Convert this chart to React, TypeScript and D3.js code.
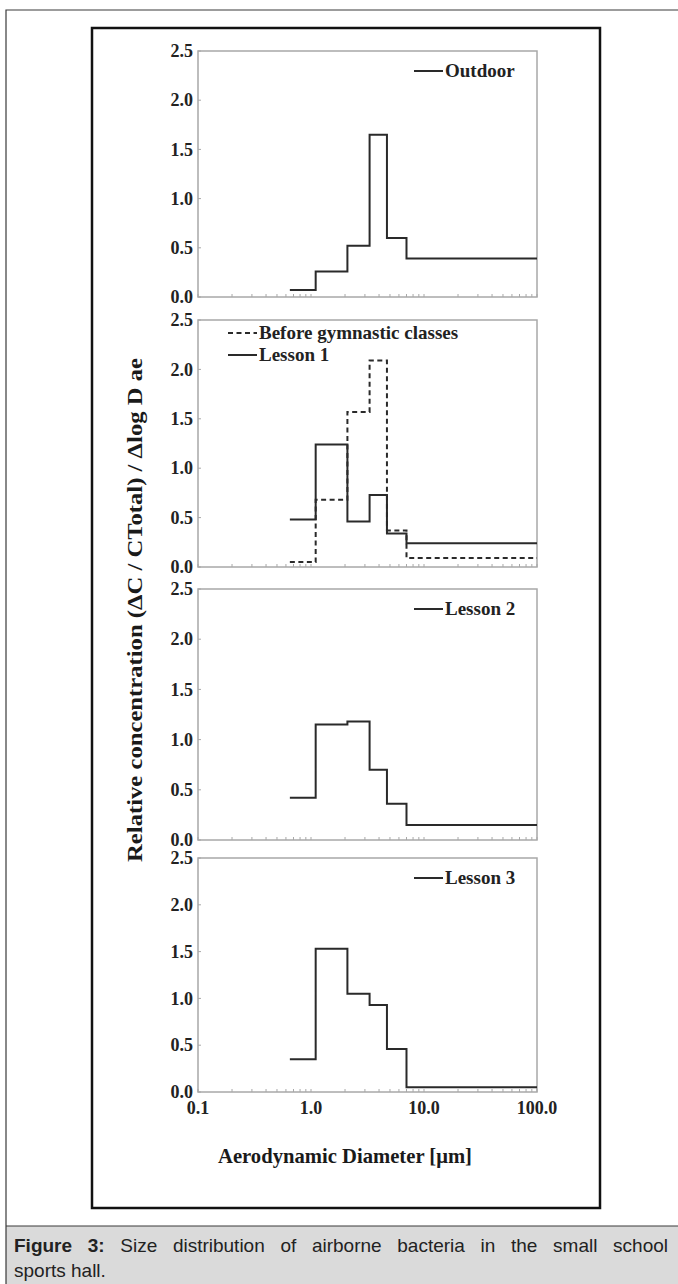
import * as d3 from "d3";
import { useEffect, useRef } from "react";

// bin edges (Andersen stages) and relative concentrations per bin
const binEdges = [0.65, 1.1, 2.1, 3.3, 4.7, 7.0, 100];
const outdoor = [0.07, 0.26, 0.52, 1.65, 0.6, 0.39];
const beforeClasses = [0.05, 0.68, 1.57, 2.09, 0.37, 0.09];
const lesson1 = [0.48, 1.24, 0.46, 0.73, 0.34, 0.24];
const lesson2 = [0.42, 1.15, 1.18, 0.7, 0.36, 0.15];
const lesson3 = [0.35, 1.53, 1.05, 0.93, 0.46, 0.05];

const yTicks = [0, 0.5, 1, 1.5, 2, 2.5];
const yTickLabels = ["0.0", "0.5", "1.0", "1.5", "2.0", "2.5"];
const xTicks = [0.1, 1, 10, 100];
const xTickLabels = ["0.1", "1.0", "10.0", "100.0"];

const captionBold = "Figure 3:";
const captionLine1 = "Size distribution of airborne bacteria in the small school";
const captionLine2 = "sports hall.";

const panels = [
    { top: 51, bottom: 297, series: [{ name: "Outdoor", values: outdoor, dashed: false }] },
    {
        top: 320,
        bottom: 567,
        series: [
            { name: "Before gymnastic classes", values: beforeClasses, dashed: true },
            { name: "Lesson 1", values: lesson1, dashed: false },
        ],
    },
    { top: 589, bottom: 840, series: [{ name: "Lesson 2", values: lesson2, dashed: false }] },
    { top: 858, bottom: 1092, series: [{ name: "Lesson 3", values: lesson3, dashed: false }] },
];

const W = 678,
    H = 1284;
const serif = "'Liberation Serif', 'Times New Roman', serif";
const sans = "'Liberation Sans', Arial, sans-serif";

export default function App() {
    const ref = useRef<SVGSVGElement>(null);

    useEffect(() => {
        const svg = d3.select(ref.current);
        svg.selectAll("*").remove();

        svg.append("rect").attr("width", W).attr("height", H).attr("fill", "#fff");

        // outer page frame and caption band
        svg.append("rect")
            .attr("x", 6)
            .attr("y", 1226)
            .attr("width", W - 6)
            .attr("height", H - 1226)
            .attr("fill", "#dadada");
        svg.append("path")
            .attr("d", `M6,${H} V10 H${W} M6,1226 H${W}`)
            .attr("fill", "none")
            .attr("stroke", "#3a3a3a")
            .attr("stroke-width", 1.2);

        // figure box
        svg.append("rect")
            .attr("x", 92)
            .attr("y", 28)
            .attr("width", 508)
            .attr("height", 1180)
            .attr("fill", "none")
            .attr("stroke", "#111")
            .attr("stroke-width", 2.5);

        const x = d3.scaleLog().domain([0.1, 100]).range([198, 537]);
        const minor: number[] = [];
        [0.1, 1, 10].forEach((dec) => d3.range(1, 10).forEach((k) => minor.push(k * dec)));
        minor.push(100);

        panels.forEach((p, pi) => {
            const y = d3.scaleLinear().domain([0, 2.5]).range([p.bottom, p.top]);
            const g = svg.append("g");

            // frame
            g.append("rect")
                .attr("x", x.range()[0])
                .attr("y", p.top)
                .attr("width", x.range()[1] - x.range()[0])
                .attr("height", p.bottom - p.top)
                .attr("fill", "none")
                .attr("stroke", "#a8a8a8")
                .attr("stroke-width", 1.5);

            // ticks
            g.selectAll(".xt")
                .data(minor)
                .join("line")
                .attr("x1", (d) => x(d))
                .attr("x2", (d) => x(d))
                .attr("y1", p.bottom)
                .attr("y2", p.bottom - 3)
                .attr("stroke", "#a8a8a8")
                .attr("stroke-width", 1);
            g.selectAll(".yt")
                .data(yTicks)
                .join("line")
                .attr("x1", x.range()[0])
                .attr("x2", x.range()[0] + 3)
                .attr("y1", (d) => y(d))
                .attr("y2", (d) => y(d))
                .attr("stroke", "#a8a8a8")
                .attr("stroke-width", 1);

            g.selectAll(".yl")
                .data(yTicks)
                .join("text")
                .attr("x", 193)
                .attr("y", (d) => y(d))
                .attr("dy", "0.34em")
                .attr("text-anchor", "end")
                .attr("font-family", serif)
                .attr("font-weight", "bold")
                .attr("font-size", 18)
                .attr("fill", "#222")
                .text((d, i) => yTickLabels[i]);

            // series
            const line = d3
                .line<number>()
                .x((d, i) => x(binEdges[i]))
                .y((d) => y(d))
                .curve(d3.curveStepAfter);

            p.series.forEach((s) => {
                const vals = [...s.values, s.values[s.values.length - 1]];
                g.append("path")
                    .datum(vals)
                    .attr("d", line)
                    .attr("fill", "none")
                    .attr("stroke", "#2a2a2a")
                    .attr("stroke-width", 2)
                    .attr("stroke-dasharray", s.dashed ? "5,3.5" : null);
            });

            // legend
            const multi = p.series.length > 1;
            p.series.forEach((s, si) => {
                const lx = multi ? 228 : 414;
                const ly = multi ? p.top + 13 + si * 22 : p.top + 20;
                g.append("line")
                    .attr("x1", lx)
                    .attr("x2", lx + 29)
                    .attr("y1", ly)
                    .attr("y2", ly)
                    .attr("stroke", "#2a2a2a")
                    .attr("stroke-width", 2)
                    .attr("stroke-dasharray", s.dashed ? "5,3.5" : null);
                g.append("text")
                    .attr("x", lx + 31)
                    .attr("y", ly)
                    .attr("dy", "0.34em")
                    .attr("font-family", serif)
                    .attr("font-weight", "bold")
                    .attr("font-size", 19)
                    .attr("fill", "#222")
                    .text(s.name);
            });

            if (pi === panels.length - 1) {
                g.selectAll(".xl")
                    .data(xTicks)
                    .join("text")
                    .attr("x", (d) => x(d))
                    .attr("y", 1114)
                    .attr("text-anchor", "middle")
                    .attr("font-family", serif)
                    .attr("font-weight", "bold")
                    .attr("font-size", 18)
                    .attr("fill", "#222")
                    .text((d, i) => xTickLabels[i]);
            }
        });

        // axis titles
        svg.append("text")
            .attr("transform", "translate(135,610) rotate(-90)")
            .attr("dy", "0.34em")
            .attr("text-anchor", "middle")
            .attr("font-family", serif)
            .attr("font-weight", "bold")
            .attr("font-size", 22)
            .attr("textLength", 504)
            .attr("lengthAdjust", "spacingAndGlyphs")
            .attr("fill", "#1a1a1a")
            .text("Relative concentration (ΔC / CTotal) / Δlog D ae");

        svg.append("text")
            .attr("x", 345)
            .attr("y", 1163)
            .attr("text-anchor", "middle")
            .attr("font-family", serif)
            .attr("font-weight", "bold")
            .attr("font-size", 22)
            .attr("textLength", 254)
            .attr("lengthAdjust", "spacingAndGlyphs")
            .attr("fill", "#1a1a1a")
            .text("Aerodynamic Diameter [μm]");

        // caption, first line justified
        const cap = svg.append("g").attr("font-family", sans).attr("font-size", 19).attr("fill", "#222");
        const words = [
            ...captionBold.split(" ").map((w) => ({ w, bold: true })),
            ...captionLine1.split(" ").map((w) => ({ w, bold: false })),
        ];
        const nodes = words.map((d) =>
            cap.append("text").attr("y", 1252).attr("font-weight", d.bold ? "bold" : null).text(d.w)
        );
        const widths = nodes.map((n) => (n.node() as SVGTextElement).getComputedTextLength());
        const left = 14,
            right = 668;
        const gap = (right - left - d3.sum(widths)) / (nodes.length - 1);
        let cx = left;
        nodes.forEach((n, i) => {
            n.attr("x", cx);
            cx += widths[i] + gap;
        });
        cap.append("text").attr("x", left).attr("y", 1277).text(captionLine2);
    }, []);

    return (
        <svg
            ref={ref}
            width={W}
            height={H}
            style={{ position: "absolute", left: 0, top: 0, display: "block" }}
        ></svg>
    );
}
